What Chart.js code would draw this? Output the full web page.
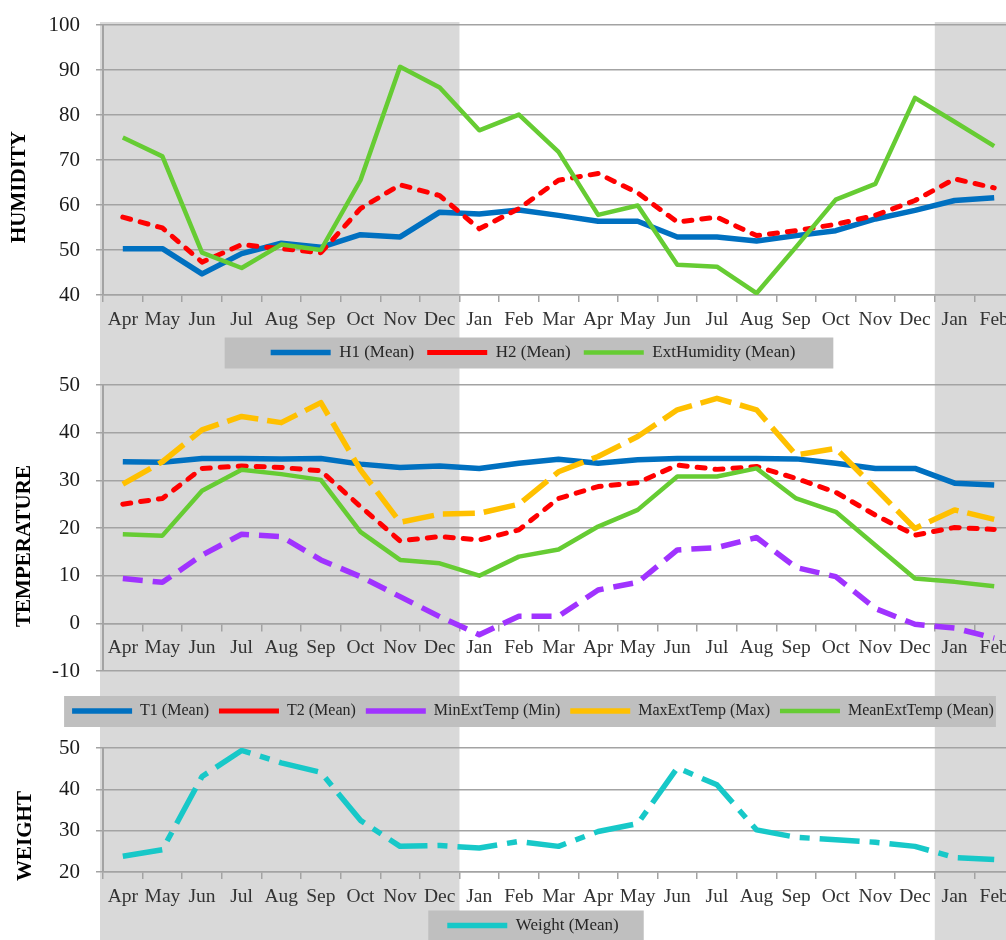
<!DOCTYPE html>
<html>
<head>
<meta charset="utf-8">
<title>Humidity, temperature and weight</title>
<script src="https://cdn.jsdelivr.net/npm/chart.js@4.4.1/dist/chart.umd.min.js"></script>
<style>
  html, body { margin: 0; padding: 0; background: #fff; overflow: hidden; width: 1006px; height: 940px; }
  canvas { position: absolute; left: 0; }
</style>
</head>
<body>
<canvas id="grafico-humedad" width="1044" height="371" style="top:0px"></canvas>
<canvas id="grafico-temperatura" width="1044" height="358" style="top:371px"></canvas>
<canvas id="grafico-peso" width="1044" height="215" style="top:729px"></canvas>
<script>
// Datos (abril a febrero del año siguiente, 23 meses)
const meses = ['Apr', 'May', 'Jun', 'Jul', 'Aug', 'Sep', 'Oct', 'Nov', 'Dec', 'Jan', 'Feb', 'Mar',
               'Apr', 'May', 'Jun', 'Jul', 'Aug', 'Sep', 'Oct', 'Nov', 'Dec', 'Jan', 'Feb'];

const h1Media = [50.3, 50.3, 44.7, 49.2, 51.5, 50.6, 53.4, 52.9, 58.4, 58.0, 58.9, 57.7,
                 56.4, 56.4, 52.9, 52.9, 52.0, 53.2, 54.3, 56.9, 58.8, 61.0, 61.6];
const h2Media = [57.3, 54.9, 47.3, 51.2, 50.3, 49.4, 59.2, 64.5, 62.1, 54.7, 59.2, 65.5,
                 67.0, 62.7, 56.2, 57.3, 53.2, 54.3, 55.7, 57.7, 61.0, 65.8, 63.8];
const humedadExt = [75.0, 70.8, 49.4, 46.0, 51.2, 50.0, 65.5, 90.7, 86.1, 76.6, 80.1, 71.8,
                    57.8, 59.9, 46.7, 46.3, 40.4, 50.7, 61.2, 64.7, 83.8, 78.5, 73.1];

const t1Media = [33.9, 33.8, 34.6, 34.6, 34.5, 34.6, 33.4, 32.7, 33.0, 32.5, 33.6, 34.4,
                 33.6, 34.3, 34.6, 34.6, 34.6, 34.5, 33.6, 32.5, 32.5, 29.4, 29.0];
const t2Media = [25.0, 26.2, 32.5, 33.0, 32.7, 32.0, 24.5, 17.3, 18.2, 17.5, 19.6, 26.2,
                 28.7, 29.5, 33.2, 32.3, 32.9, 30.4, 27.5, 22.7, 18.5, 20.1, 19.7];
const tempExtMin = [9.4, 8.6, 14.3, 18.7, 18.2, 13.3, 9.8, 5.6, 1.4, -2.4, 1.5, 1.5,
                    7.0, 8.6, 15.4, 15.9, 18.0, 11.7, 9.8, 3.1, -0.2, -1.0, -3.1];
const tempExtMax = [29.2, 33.9, 40.6, 43.4, 42.1, 46.3, 32.2, 21.2, 22.9, 23.1, 25.0, 31.8,
                    35.0, 39.2, 44.8, 47.2, 44.8, 35.3, 36.7, 28.3, 19.9, 23.8, 21.8];
const tempExtMedia = [18.7, 18.4, 27.8, 32.2, 31.3, 30.1, 19.2, 13.3, 12.6, 10.0, 14.0, 15.5,
                      20.3, 23.8, 30.8, 30.8, 32.5, 26.2, 23.4, 16.4, 9.4, 8.7, 7.8];

const pesoMedia = [23.8, 25.4, 43.1, 49.4, 46.4, 44.1, 32.5, 26.2, 26.4, 25.8, 27.4, 26.2,
                   29.8, 31.7, 45.2, 41.1, 30.2, 28.4, 27.8, 27.2, 26.2, 23.5, 23.0];

// meses sombreados en gris (indices de inicio y fin)
const tramosGris = [[0, 8], [21, 22]];

const fuente = '"Liberation Serif", "Times New Roman", serif';
const gris = '#a3a3a3';

Chart.defaults.font.family = fuente;
Chart.defaults.color = '#262626';
Chart.defaults.animation = false;

// Fondo gris de los meses marcados y caja gris de la leyenda
const fondoGris = {
    id: 'fondoGris',
    beforeDraw(chart, args, opts) {
        const ctx = chart.ctx;
        const x = chart.scales.x;
        const mitad = (x.getPixelForValue(1) - x.getPixelForValue(0)) / 2;
        const arriba = opts.desdeArriba ? chart.chartArea.top - 3 : 0;
        ctx.save();
        ctx.fillStyle = '#d9d9d9';
        tramosGris.forEach(function (t) {
            let x1 = x.getPixelForValue(t[0]) - mitad;
            const x2 = x.getPixelForValue(t[1]) + mitad;
            if (t[0] === 0) x1 -= 3;
            ctx.fillRect(x1, arriba, x2 - x1, chart.height - arriba);
        });
        const cajas = chart.legend.legendHitBoxes;
        if (cajas && cajas.length) {
            const izq = Math.min.apply(null, cajas.map(c => c.left)) - opts.margenIzq;
            const der = Math.max.apply(null, cajas.map(c => c.left + c.width)) + opts.margenDer;
            const cy = cajas[0].top + cajas[0].height / 2;
            ctx.fillStyle = '#bfbfbf';
            ctx.fillRect(izq, cy - 15, der - izq, 31);
        }
        ctx.restore();
    }
};

// Titulo vertical del eje Y
const tituloEje = {
    id: 'tituloEje',
    afterDraw(chart, args, opts) {
        const ctx = chart.ctx;
        const area = chart.chartArea;
        ctx.save();
        ctx.translate(opts.x, (area.top + area.bottom) / 2 + opts.dy);
        ctx.rotate(-Math.PI / 2);
        ctx.font = 'bold 21px ' + fuente;
        ctx.fillStyle = '#000';
        ctx.textAlign = 'center';
        ctx.textBaseline = 'middle';
        ctx.fillText(opts.texto, 0, 0);
        ctx.restore();
    }
};

function serie(label, data, color, ancho, guion, orden, punta) {
    return {
        label: label,
        data: data,
        borderColor: color,
        backgroundColor: color,
        borderWidth: ancho,
        borderDash: guion,
        borderCapStyle: punta || 'butt',
        borderJoinStyle: 'round',
        pointRadius: 0,
        pointHoverRadius: 0,
        fill: false,
        tension: 0,
        order: orden
    };
}

function crearGrafico(id, series, c) {
    const escalaX = {
        type: 'category',
        offset: true,
        grid: { display: true, drawOnChartArea: false, drawTicks: true, tickLength: 7, offset: true, color: gris, lineWidth: 1.5 },
        border: { display: true, color: gris, width: 1.5 },
        ticks: { autoSkip: false, maxRotation: 0, padding: 6, color: '#333', font: { size: 19.5 } },
        afterFit(s) {
            s.paddingLeft = 0;
            s.paddingRight = 0;
            if (c.altoX) s.height = c.altoX;
        }
    };
    const escalas = {
        x: escalaX,
        y: {
            min: c.min,
            max: c.max,
            ticks: { stepSize: 10, padding: 16, color: '#1a1a1a', font: { size: 21 } },
            grid: { color: gris, lineWidth: 1.5, tickLength: 7 },
            border: { display: true, color: gris, width: 2 },
            afterFit(s) {
                s.width = 81;
                s.paddingTop = 0;
                s.paddingBottom = 0;
            }
        },
        // eje vacio a la derecha: deja el area del grafico hasta x=1014 y centra la leyenda
        derecha: {
            type: 'linear',
            position: 'right',
            grid: { display: false, drawTicks: false },
            border: { display: false },
            ticks: { display: false },
            afterFit(s) { s.width = 30; s.paddingTop = 0; s.paddingBottom = 0; }
        }
    };
    if (c.ejeEnCero) {
        escalaX.position = { y: 0 };
        // eje vacio que solo reserva espacio antes de la leyenda
        escalas.relleno = {
            type: 'category',
            position: 'bottom',
            grid: { display: false, drawTicks: false },
            border: { display: false },
            ticks: { display: false },
            afterFit(s) { s.height = c.relleno; }
        };
    }

    return new Chart(document.getElementById(id), {
        type: 'line',
        data: { labels: meses, datasets: series },
        options: {
            responsive: false,
            devicePixelRatio: 1,
            animation: false,
            layout: { padding: { top: c.arriba, left: 22, right: 0, bottom: 0 } },
            scales: escalas,
            plugins: {
                legend: {
                    position: 'bottom',
                    labels: {
                        usePointStyle: true,
                        pointStyle: 'line',
                        pointStyleWidth: 60,
                        padding: c.sepLeyenda,
                        color: '#262626',
                        font: { size: c.letraLeyenda },
                        sort: (a, b) => a.datasetIndex - b.datasetIndex
                    }
                },
                tooltip: { enabled: false },
                fondoGris: { desdeArriba: c.desdeArriba, margenIzq: c.cajaIzq, margenDer: c.cajaDer },
                tituloEje: { texto: c.titulo, x: c.tituloX, dy: c.tituloDy }
            }
        },
        plugins: [fondoGris, tituloEje]
    });
}

crearGrafico('grafico-humedad', [
    serie('H1 (Mean)', h1Media, '#0070C0', 5.5, [], 3),
    serie('H2 (Mean)', h2Media, '#FF0000', 5, [8, 10], 2, 'round'),
    serie('ExtHumidity (Mean)', humedadExt, '#66CC33', 4.5, [], 1)
], {
    min: 40, max: 100, arriba: 25, altoX: 36, sepLeyenda: 13, letraLeyenda: 17,
    desdeArriba: true, cajaIzq: 46, cajaDer: 38,
    titulo: 'HUMIDITY', tituloX: 20, tituloDy: 27
});

crearGrafico('grafico-temperatura', [
    serie('T1 (Mean)', t1Media, '#0070C0', 5.5, [], 5),
    serie('T2 (Mean)', t2Media, '#FF0000', 5, [8, 10], 4, 'round'),
    serie('MinExtTemp (Min)', tempExtMin, '#A033FF', 5.5, [20, 10], 3),
    serie('MaxExtTemp (Max)', tempExtMax, '#FFC000', 5.5, [32, 9], 2),
    serie('MeanExtTemp (Mean)', tempExtMedia, '#66CC33', 4.5, [], 1)
], {
    min: -10, max: 50, arriba: 14, ejeEnCero: true, relleno: 22, sepLeyenda: 10, letraLeyenda: 16,
    desdeArriba: false, cajaIzq: 8, cajaDer: 2,
    titulo: 'TEMPERATURE', tituloX: 25, tituloDy: 18
});

crearGrafico('grafico-peso', [
    serie('Weight (Mean)', pesoMedia, '#17C8C8', 5.5, [40, 10, 10, 10], 1)
], {
    min: 20, max: 50, arriba: 19, altoX: 37, sepLeyenda: 8, letraLeyenda: 17,
    desdeArriba: false, cajaIzq: 19, cajaDer: 25,
    titulo: 'WEIGHT', tituloX: 26, tituloDy: 26
});
</script>
</body>
</html>
